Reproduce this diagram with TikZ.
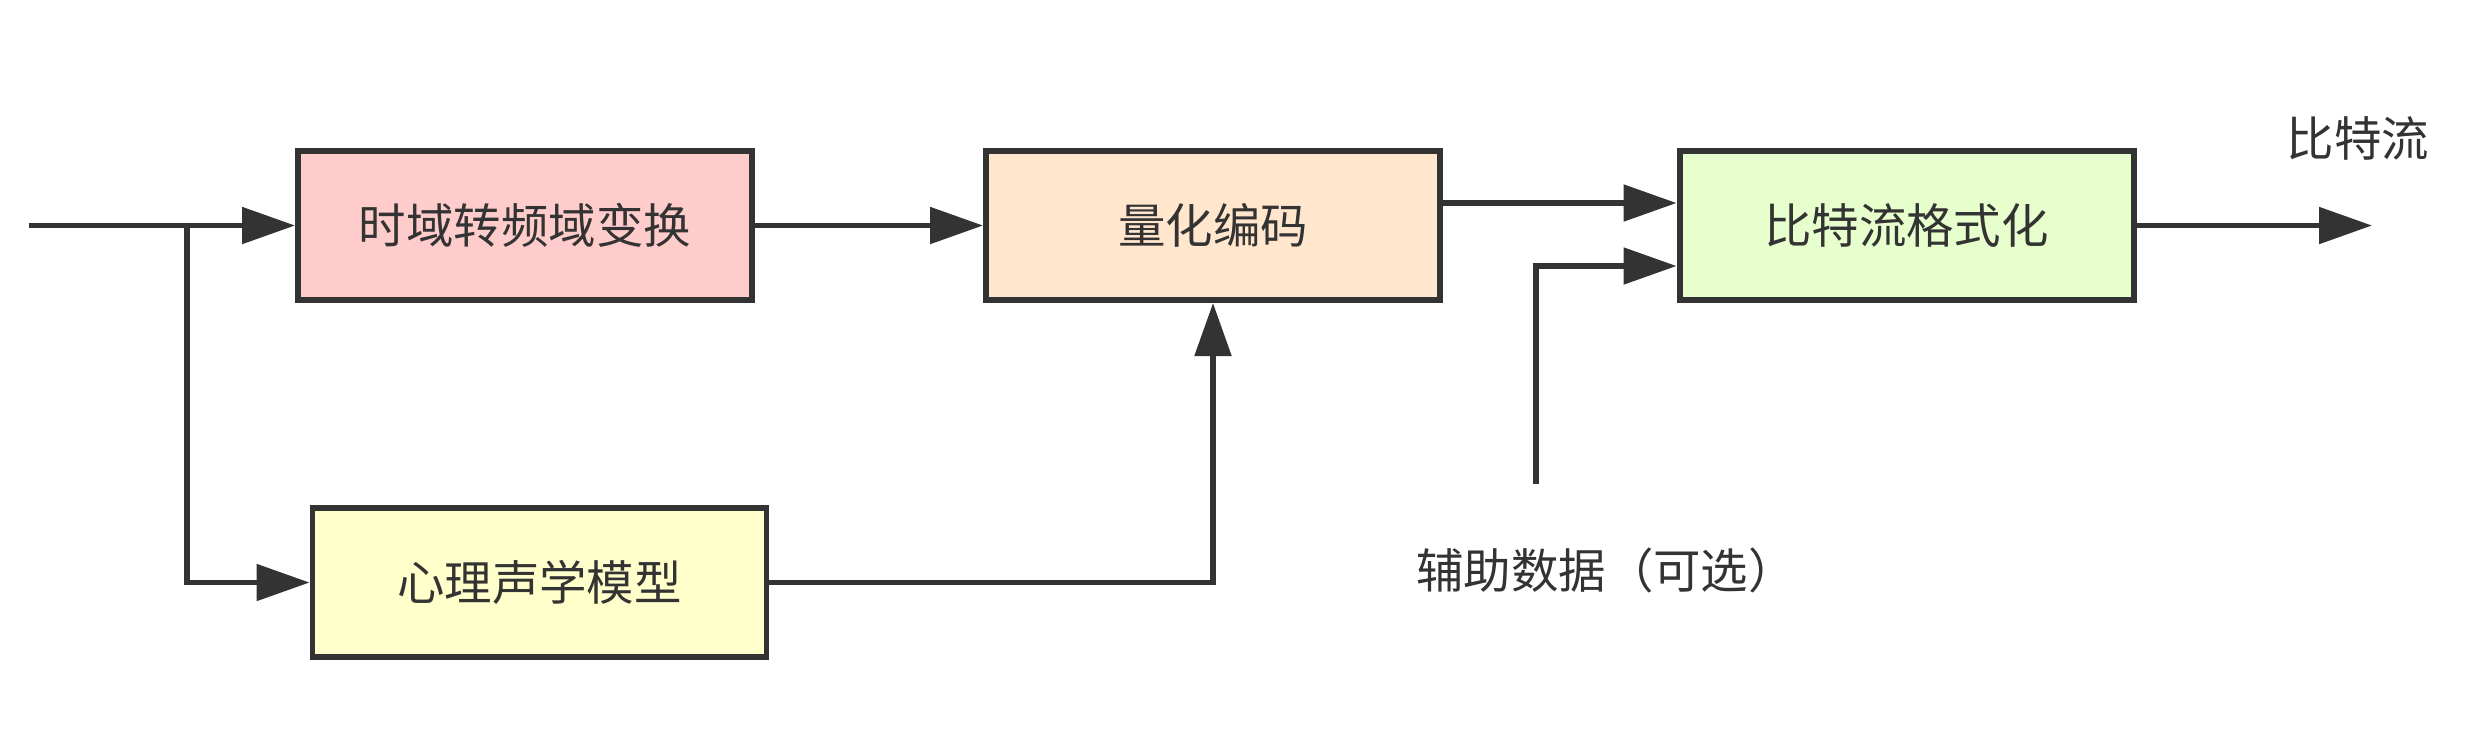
\documentclass[tikz,border=0pt]{standalone}
\usepackage{fontspec}
\setmainfont{Noto Sans CJK SC}
\usepackage{xcolor}
\usepackage{tikz}
\usetikzlibrary{arrows.meta,positioning,calc}

\definecolor{linegray}{HTML}{333333}
\definecolor{textgray}{HTML}{333333}
\definecolor{pinkfill}{HTML}{FFCCCC}
\definecolor{orangefill}{HTML}{FFE6CC}
\definecolor{greenfill}{HTML}{E6FFCC}
\definecolor{yellowfill}{HTML}{FFFFCC}

\begin{document}
\begin{tikzpicture}[x=0.1mm,y=-0.1mm,
  block/.style={draw=linegray,line width=1.7pt,minimum width=45.4mm,minimum height=14.9mm,
    inner sep=0pt,text=textgray,font=\fontsize{13.5}{16}\selectfont},
  label/.style={text=textgray,inner sep=0pt,font=\fontsize{13.5}{16}\selectfont},
  arr/.style={draw=linegray,line width=1.5pt,-{Triangle[length=5.3mm,width=3.6mm]}}]
  \useasboundingbox (0,0) rectangle (2488,740);
  % blocks
  \node[block,fill=pinkfill] (t2f) at (525,225.5) {时域转频域变换};
  \node[block,fill=orangefill] (quant) at (1213,225.5) {量化编码};
  \node[block,fill=greenfill] (fmt) at (1906.5,225.5) {比特流格式化};
  \node[block,fill=yellowfill] (psy) at (539.5,582.5) {心理声学模型};
  % free ends
  \coordinate (in) at (29,225.5);
  \coordinate (split) at (187,225.5);
  \coordinate (auxend) at (1536,484);
  \coordinate (out) at (2372,225.5);
  % labels
  \node[label] (outlbl) at (2358,138) {比特流};
  \node[label] (auxlbl) at (1606,570) {辅助数据（可选）};
  % connectors
  \draw[arr] (in) -- (t2f.west);
  \draw[arr] (split) |- (psy.west);
  \draw[arr] (t2f) -- (quant);
  \draw[arr] (psy.east) -| (quant.south);
  \draw[arr] ([yshift=2.25mm]quant.east) -- ([yshift=2.25mm]fmt.west);
  \draw[arr] (auxend) |- ([yshift=-4.05mm]fmt.west);
  \draw[arr] (fmt.east) -- (out);
\end{tikzpicture}
\end{document}
